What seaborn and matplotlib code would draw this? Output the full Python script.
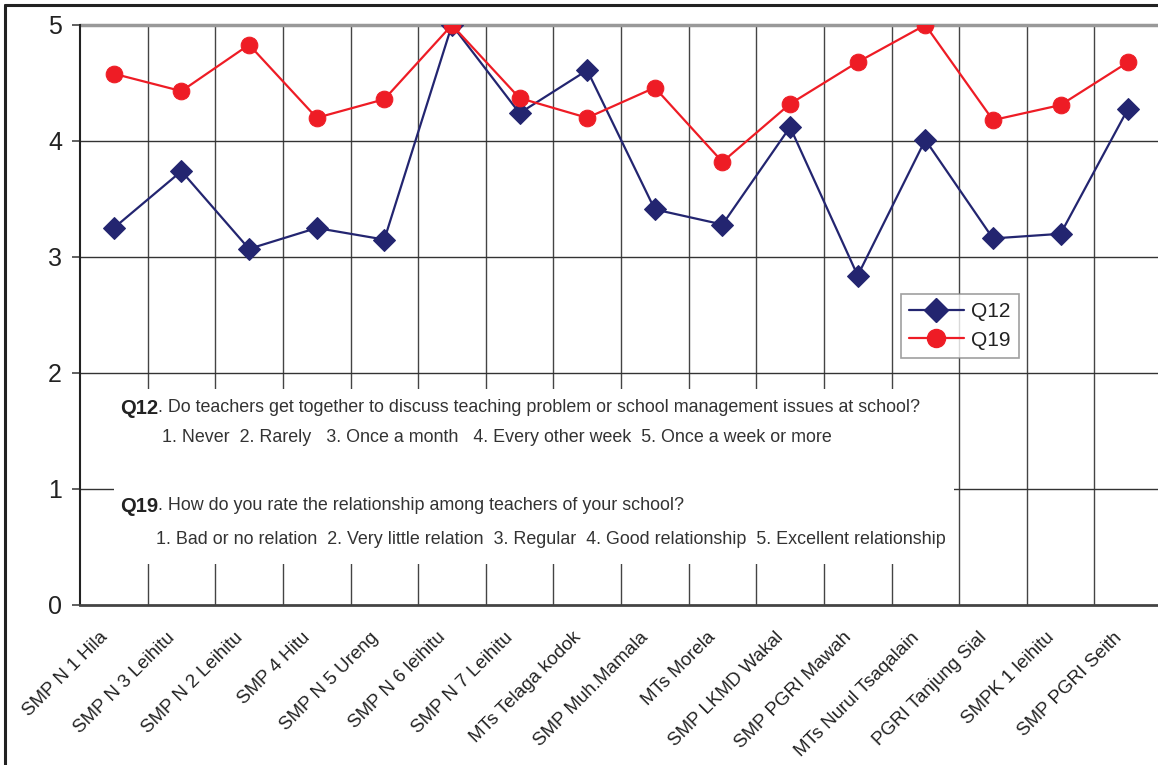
import matplotlib
matplotlib.use("Agg")
import matplotlib.pyplot as plt
import matplotlib.transforms as mtransforms
import seaborn as sns
import pandas as pd
from matplotlib.patches import Rectangle
from matplotlib.lines import Line2D

schools = ["SMP N 1 Hila", "SMP N 3 Leihitu", "SMP N 2 Leihitu", "SMP 4 Hitu",
           "SMP N 5 Ureng", "SMP N 6 leihitu", "SMP N 7 Leihitu", "MTs Telaga kodok",
           "SMP Muh.Mamala", "MTs Morela", "SMP LKMD Wakal", "SMP PGRI Mawah",
           "MTs Nurul Tsaqalain", "PGRI Tanjung Sial", "SMPK 1 leihitu", "SMP PGRI Seith"]
q12 = [3.25, 3.74, 3.07, 3.25, 3.15, 5.0, 4.24, 4.61, 3.41, 3.28, 4.12, 2.84, 4.01, 3.16, 3.20, 4.28]
q19 = [4.58, 4.43, 4.83, 4.20, 4.36, 5.0, 4.37, 4.20, 4.46, 3.82, 4.32, 4.68, 5.0, 4.18, 4.31, 4.68]
yticks = [0, 1, 2, 3, 4, 5]

q12_text = ". Do teachers get together to discuss teaching problem or school management issues at school?"
q12_opts = "1. Never  2. Rarely   3. Once a month   4. Every other week  5. Once a week or more"
q19_text = ". How do you rate the relationship among teachers of your school?"
q19_opts = "1. Bad or no relation  2. Very little relation  3. Regular  4. Good relationship  5. Excellent relationship"

sns.set_theme(style="white")
plt.rcParams['font.family'] = ['Liberation Sans', 'DejaVu Sans']

W, H = 1158, 765
fig = plt.figure(figsize=(W / 100, H / 100), dpi=100)
x0, x1, ytop, ybot = 80, 1162, 25, 605
ax = fig.add_axes([x0 / W, 1 - ybot / H, (x1 - x0) / W, (ybot - ytop) / H])

idx = list(range(len(schools)))
df = pd.DataFrame({"idx": idx, "Q12": q12, "Q19": q19})

navy = "#232570"
red = "#EE1C25"
sns.lineplot(data=df, x="idx", y="Q12", ax=ax, color=navy, lw=1.6, marker="D",
             markersize=11, markeredgecolor=navy, zorder=5)
sns.lineplot(data=df, x="idx", y="Q19", ax=ax, color=red, lw=1.6, marker="o",
             markersize=12, markeredgecolor=red, zorder=6)

ax.set_xlim(-0.5, len(schools) - 0.5)
ax.set_ylim(0, 5)
ax.set_xlabel("")
ax.set_ylabel("")

# grid lines
for b in range(1, len(schools)):
    ax.axvline(b - 0.5, color="#444444", lw=1.0, zorder=1)
for t in yticks[1:5]:
    ax.axhline(t, color="#333333", lw=1.0, zorder=1)
ax.axhline(5, color="#999999", lw=2.5, zorder=1, clip_on=False)

for s in ["top", "right"]:
    ax.spines[s].set_visible(False)
ax.spines["left"].set_color("#222222")
ax.spines["left"].set_linewidth(1.5)
ax.spines["bottom"].set_color("#444444")
ax.spines["bottom"].set_linewidth(2)

ax.set_yticks(yticks)
ax.set_yticklabels([str(v) for v in yticks], fontsize=18, color="#222222")
ax.tick_params(axis="y", which="major", left=True, length=6, width=1.2, color="#444444", pad=7)
ax.set_xticks(idx)
ax.set_xticklabels(schools, rotation=45, ha="right", va="center", rotation_mode="anchor",
                   fontsize=13.5, color="#222222")
ax.tick_params(axis="x", bottom=False, length=0, pad=0)
offset = mtransforms.ScaledTranslation(-9 / 100, -30 / 100, fig.dpi_scale_trans)
for lab in ax.get_xticklabels():
    lab.set_transform(lab.get_transform() + offset)

# white note box
def px2data(px, py):
    return ((px - x0) / 67.6 - 0.5, (ybot - py) / 116.0)

bx0, by0 = px2data(114, 564)
bx1, by1 = px2data(954, 389)
ax.add_patch(Rectangle((bx0, by0), bx1 - bx0, by1 - by0, facecolor="white",
                       edgecolor="none", zorder=2))

narrow = ['Liberation Sans Narrow', 'Liberation Sans', 'DejaVu Sans']
fs_note = 12.9

def fig_text(px, py, s, **kw):
    return fig.text(px / W, 1 - py / H, s, **kw)

t = fig_text(120, 408, "Q12", family=narrow, fontsize=14.5, fontweight="bold", color="#222222", va="center")
fig.canvas.draw()
bb = t.get_window_extent()
fig.text(bb.x1 / W, 1 - 408 / H, q12_text, family=narrow, fontsize=fs_note, color="#333333", va="center")
fig_text(162, 438, q12_opts, family=narrow, fontsize=fs_note, color="#333333", va="center")

t2 = fig_text(120, 506, "Q19", family=narrow, fontsize=14.5, fontweight="bold", color="#222222", va="center")
fig.canvas.draw()
bb2 = t2.get_window_extent()
fig.text(bb2.x1 / W, 1 - 506 / H, q19_text, family=narrow, fontsize=fs_note, color="#333333", va="center")
fig_text(156, 539, q19_opts, family=narrow, fontsize=fs_note, color="#333333", va="center")

# legend
handles = [Line2D([0], [0], color=navy, lw=1.6, marker="D", markersize=12),
           Line2D([0], [0], color=red, lw=1.6, marker="o", markersize=13)]
leg = fig.legend(handles, ["Q12", "Q19"], loc="upper left",
                 bbox_to_anchor=(901 / W, 1 - 294 / H), frameon=True, fancybox=False,
                 fontsize=15, handlelength=2.6, handletextpad=0.35, borderpad=0.4,
                 labelspacing=0.45, borderaxespad=0)
leg.get_frame().set_edgecolor("#888888")
leg.get_frame().set_linewidth(1.2)
for txt in leg.get_texts():
    txt.set_family(narrow)
    txt.set_color("#222222")

# outer figure border (top & left visible)
fig.add_artist(Line2D([5 / W, 5 / W], [0, 1 - 5 / H], color="#222222", lw=2.2,
                      transform=fig.transFigure))
fig.add_artist(Line2D([5 / W, 1], [1 - 5 / H, 1 - 5 / H], color="#222222", lw=2.2,
                      transform=fig.transFigure))

fig.savefig("out.png", dpi=100)
